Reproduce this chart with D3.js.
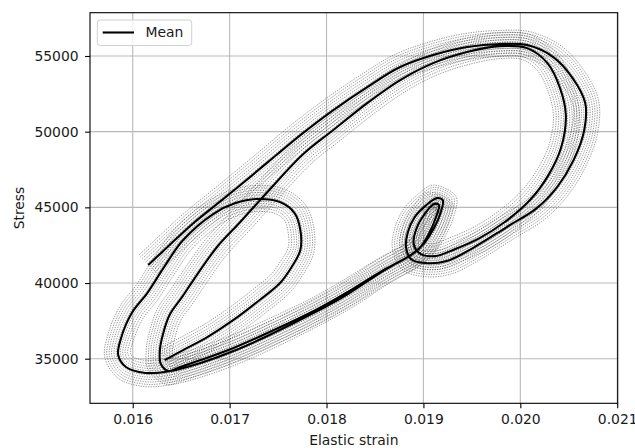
<!DOCTYPE html>
<html>
<head>
<meta charset="utf-8">
<script src="https://cdn.jsdelivr.net/npm/d3@7"></script>
<style>
  body { margin: 0; background: #fff; }
  text { font-family: "DejaVu Sans", sans-serif; fill: #1a1a1a; }
</style>
</head>
<body>
<svg id="chart" width="635" height="448"></svg>
<script>
// Axis ticks and limits
const xTicks = [0.016, 0.017, 0.018, 0.019, 0.020, 0.021];
const yTicks = [35000, 40000, 45000, 50000, 55000];
const xDomain = [0.015559, 0.021005];
const yDomain = [32054, 57860];

// Mean stress-strain trajectory (elastic strain, stress)
const meanStrain = [
  // first cycle: upper branch, outer right side, first small loop, lower branch
  0.01616, 0.01638, 0.01664, 0.01692, 0.01721, 0.01747, 0.01773, 0.01807, 0.01842, 0.01876,
  0.01910, 0.01945, 0.01979, 0.02007, 0.02034, 0.02054, 0.02067, 0.02066, 0.02055, 0.02038,
  0.02017, 0.01986, 0.01951, 0.01924, 0.01902, 0.01887, 0.01882, 0.01884, 0.01891, 0.01903,
  0.01914, 0.01920, 0.01918, 0.01911, 0.01901, 0.01889, 0.01876, 0.01857, 0.01822, 0.01789,
  0.01739, 0.01704, 0.01670, 0.01649, 0.01637, 0.01629, 0.01628, 0.01631, 0.01638, 0.01651,
  // second cycle
  0.01664, 0.01687, 0.01711, 0.01740, 0.01776, 0.01807, 0.01842, 0.01876, 0.01910, 0.01945,
  0.01979, 0.02007, 0.02028, 0.02041, 0.02047, 0.02042, 0.02029, 0.02010, 0.01984, 0.01958,
  0.01933, 0.01912, 0.01897, 0.01890, 0.01893, 0.01902, 0.01911, 0.01916, 0.01913, 0.01906,
  0.01897, 0.01884, 0.01871, 0.01855, 0.01822, 0.01789, 0.01739, 0.01704, 0.01670, 0.01639,
  // inner loop
  0.01613, 0.01593, 0.01585, 0.01588, 0.01599, 0.01615, 0.01633, 0.01652, 0.01683, 0.01706,
  0.01728, 0.01752, 0.01767, 0.01773, 0.01773, 0.01764, 0.01752, 0.01731, 0.01704, 0.01677,
  0.01652, 0.01633
];
const meanStress = [
  41190, 42510, 44030, 45480, 47000, 48390, 49775, 51430, 52950, 54270,
  55060, 55590, 55790, 55720, 54930, 53540, 51890, 50110, 48120, 46340,
  44950, 43700, 42310, 41450, 41320, 41590, 42380, 43370, 44360, 45150,
  45610, 45480, 44690, 43630, 42640, 41920, 41450, 40790, 39410, 38220,
  36700, 35710, 34910, 34450, 34190, 34650, 35570, 36570, 37890, 39080,
  40330, 42380, 44030, 46080, 48520, 50110, 51890, 53410, 54530, 55260,
  55650, 55520, 54530, 52880, 51090, 48920, 47130, 45480, 44030, 42970,
  42250, 41780, 41920, 42580, 43630, 44620, 45220, 45150, 44360, 43300,
  42380, 41720, 41260, 40660, 39270, 38090, 36500, 35510, 34720, 34190,
  34060, 34450, 35240, 36370, 38020, 39340, 41120, 42840, 44560, 45280,
  45550, 45350, 44620, 43500, 42180, 41060, 40000, 38880, 37560, 36430,
  35570, 34910
];

// Individual runs: sideways offset of each run from the mean path, in stress units
const runSpread = [-820, -640, -470, -310, -160, -30, 110, 260, 420, 580, 740, 900];

const seriesName = "Mean";
const xLabel = "Elastic strain";
const yLabel = "Stress";

const svg = d3.select("#chart");
const plotLeft = 90, plotRight = 617.7, plotTop = 12.7, plotBottom = 403.3;

const x = d3.scaleLinear().domain(xDomain).range([plotLeft, plotRight]);
const y = d3.scaleLinear().domain(yDomain).range([plotBottom, plotTop]);

svg.append("defs").append("clipPath").attr("id", "plot-area")
  .append("rect").attr("x", plotLeft).attr("y", plotTop)
  .attr("width", plotRight - plotLeft).attr("height", plotBottom - plotTop);

// Grid
const grid = svg.append("g").attr("stroke", "#b9b9b9").attr("stroke-width", 1.1);
grid.selectAll(".gx").data(xTicks).join("line")
  .attr("x1", d => x(d)).attr("x2", d => x(d)).attr("y1", plotTop).attr("y2", plotBottom);
grid.selectAll(".gy").data(yTicks).join("line")
  .attr("y1", d => y(d)).attr("y2", d => y(d)).attr("x1", plotLeft).attr("x2", plotRight);

// Axes
const xAxis = d3.axisBottom(x).tickValues(xTicks).tickFormat(d3.format(".3f"))
  .tickSize(4.9).tickPadding(5.5);
const yAxis = d3.axisLeft(y).tickValues(yTicks).tickFormat(d3.format("d"))
  .tickSize(4.9).tickPadding(6.5);

const gx = svg.append("g").attr("transform", `translate(0,${plotBottom})`).call(xAxis);
const gy = svg.append("g").attr("transform", `translate(${plotLeft},0)`).call(yAxis);
[gx, gy].forEach(g => {
  g.select(".domain").remove();
  g.selectAll(".tick line").attr("stroke", "#000").attr("stroke-width", 1.1);
  g.selectAll(".tick text").attr("font-size", 13.9).attr("fill", "#1a1a1a")
    .attr("font-family", "DejaVu Sans, sans-serif");
});

// Runs and mean
const plot = svg.append("g").attr("clip-path", "url(#plot-area)");
const curve = d3.curveCatmullRom.alpha(0.5);
const meanPts = meanStrain.map((s, i) => [x(s), y(meanStress[i])]);
const pxPerStress = Math.abs(y(1) - y(0));
const n = meanPts.length;

const runLine = d3.line().curve(curve);
runSpread.forEach(sp => {
  const d = sp * pxPerStress;
  const pts = meanPts.map((p, i) => {
    const a = meanPts[Math.max(i - 1, 0)], b = meanPts[Math.min(i + 1, n - 1)];
    const tx = b[0] - a[0], ty = b[1] - a[1];
    const L = Math.hypot(tx, ty) || 1;
    return [p[0] + d * ty / L, p[1] - d * tx / L];
  });
  plot.append("path").attr("d", runLine(pts))
    .attr("fill", "none").attr("stroke", "#222").attr("stroke-opacity", 0.6)
    .attr("stroke-width", 0.8).attr("stroke-dasharray", "1.3,1.2");
});

const meanLine = d3.line()
  .x((d, i) => x(meanStrain[i]))
  .y((d, i) => y(meanStress[i]))
  .curve(curve);
plot.append("path").attr("d", meanLine(meanStrain))
  .attr("fill", "none").attr("stroke", "#000").attr("stroke-width", 2.1)
  .attr("stroke-linejoin", "round");

// Frame
svg.append("rect").attr("x", plotLeft).attr("y", plotTop)
  .attr("width", plotRight - plotLeft).attr("height", plotBottom - plotTop)
  .attr("fill", "none").attr("stroke", "#000").attr("stroke-width", 1.1);

// Axis titles
svg.append("text").attr("x", (plotLeft + plotRight) / 2).attr("y", 444.5)
  .attr("text-anchor", "middle").attr("font-size", 13.9).text(xLabel);
svg.append("text").attr("transform", `translate(23.5,${(plotTop + plotBottom) / 2}) rotate(-90)`)
  .attr("text-anchor", "middle").attr("font-size", 13.9).text(yLabel);

// Legend
const lg = svg.append("g");
lg.append("rect").attr("x", 97.3).attr("y", 20).attr("width", 94.4).attr("height", 25.5)
  .attr("rx", 3).attr("fill", "#fff").attr("fill-opacity", 0.8)
  .attr("stroke", "#d0d0d0").attr("stroke-width", 1);
lg.append("line").attr("x1", 102.7).attr("x2", 134).attr("y1", 32.5).attr("y2", 32.5)
  .attr("stroke", "#000").attr("stroke-width", 2.1);
lg.append("text").attr("x", 145.5).attr("y", 32.5).attr("dy", "0.35em")
  .attr("font-size", 13.9).text(seriesName);
</script>
</body>
</html>
